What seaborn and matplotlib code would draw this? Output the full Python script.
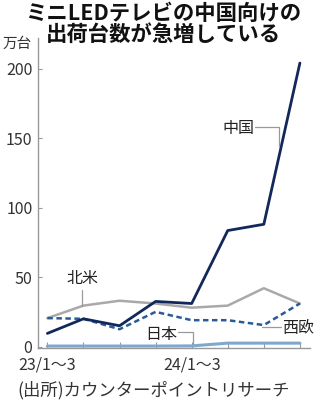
import matplotlib
matplotlib.use("Agg")
import matplotlib.pyplot as plt
import seaborn as sns
import pandas as pd

quarters = ["23/1～3", "23/4～6", "23/7～9", "23/10～12",
            "24/1～3", "24/4～6", "24/7～9", "24/10～12"]
tick_labels = ["23/1～3", "", "", "", "24/1～3", "", "", ""]
china = [9.5, 20, 15, 32.5, 31, 83.5, 88, 204]
north_america = [20.5, 29.5, 33, 31, 28, 29.5, 42, 31]
west_europe = [20.5, 20, 12.5, 25, 19, 19, 15.5, 31]
japan = [0.4, 0.4, 0.4, 0.4, 0.5, 2.5, 2.5, 2.5]
yticks = [0, 50, 100, 150, 200]

sns.set_theme(style="white")
plt.rcParams['font.family'] = ['Noto Sans CJK JP', 'DejaVu Sans']

fig = plt.figure(figsize=(3.19, 4.05), dpi=100)
ax = fig.add_axes([38/319, 1-348/405, (310-38)/319, (348-38)/405])

idx = list(range(len(quarters)))
df = pd.DataFrame({"x": idx, "中国": china, "北米": north_america,
                   "西欧": west_europe, "日本": japan})

sns.lineplot(data=df, x="x", y="北米", ax=ax, color="#a9a9a9", lw=1.8)
sns.lineplot(data=df, x="x", y="日本", ax=ax, color="#7fa8cf", lw=2.2)
sns.lineplot(data=df, x="x", y="西欧", ax=ax, color="#2a5a98", lw=1.8,
             linestyle=(0, (2.2, 1.4)))
sns.lineplot(data=df, x="x", y="中国", ax=ax, color="#13285a", lw=2.0)

ax.set_xlim(-0.26, 7.28)
ax.set_ylim(-1, 222)
ax.set_xticks(idx)
ax.set_xticklabels(tick_labels)
ax.set_yticks(yticks)
ax.set_xlabel("")
ax.set_ylabel("")
for s in ["top", "right"]:
    ax.spines[s].set_visible(False)
for s in ["left", "bottom"]:
    ax.spines[s].set_color("#999999")
    ax.spines[s].set_linewidth(1.0)
ax.tick_params(axis="x", direction="in", length=4, width=0.8, color="#999999",
               labelsize=11.5, labelcolor="#333333", pad=6)
ax.tick_params(axis="y", direction="in", length=3, width=0.8, color="#999999",
               labelsize=11.5, labelcolor="#333333", pad=4, left=True)
ax.tick_params(axis="x", bottom=True)

# title
fig.text(163/319, 1-13/405, "ミニLEDテレビの中国向けの", ha="center", va="center",
         fontsize=15.4, fontweight="bold", color="#111111")
fig.text(163/319, 1-34/405, "出荷台数が急増している", ha="center", va="center",
         fontsize=15.4, fontweight="bold", color="#111111")
fig.text(3/319, 1-44/405, "万台", ha="left", va="center", fontsize=10.5,
         color="#333333")
fig.text(17/319, 1-390/405, "(出所)カウンターポイントリサーチ", ha="left",
         va="center", fontsize=12.5, color="#333333")

def px(x, y):
    return (x/319, 1-y/405)

lc = "#999999"
def leader(points):
    xs = [p[0]/319 for p in points]
    ys = [1-p[1]/405 for p in points]
    fig.add_artist(plt.Line2D(xs, ys, color=lc, lw=0.9, transform=fig.transFigure))

fig.text(*px(82, 278), "北米", ha="center", va="center", fontsize=11.5, color="#222222")
leader([(82, 290), (82, 306)])
fig.text(*px(238, 128), "中国", ha="center", va="center", fontsize=11.5, color="#222222")
leader([(255, 127), (279, 127), (279, 146)])
fig.text(*px(298, 328), "西欧", ha="center", va="center", fontsize=11.5, color="#222222")
leader([(262, 327), (281, 327)])
fig.text(*px(161, 334), "日本", ha="center", va="center", fontsize=11.5, color="#222222")
leader([(178, 332), (193, 332), (193, 344)])

fig.savefig("out.png", dpi=100)
